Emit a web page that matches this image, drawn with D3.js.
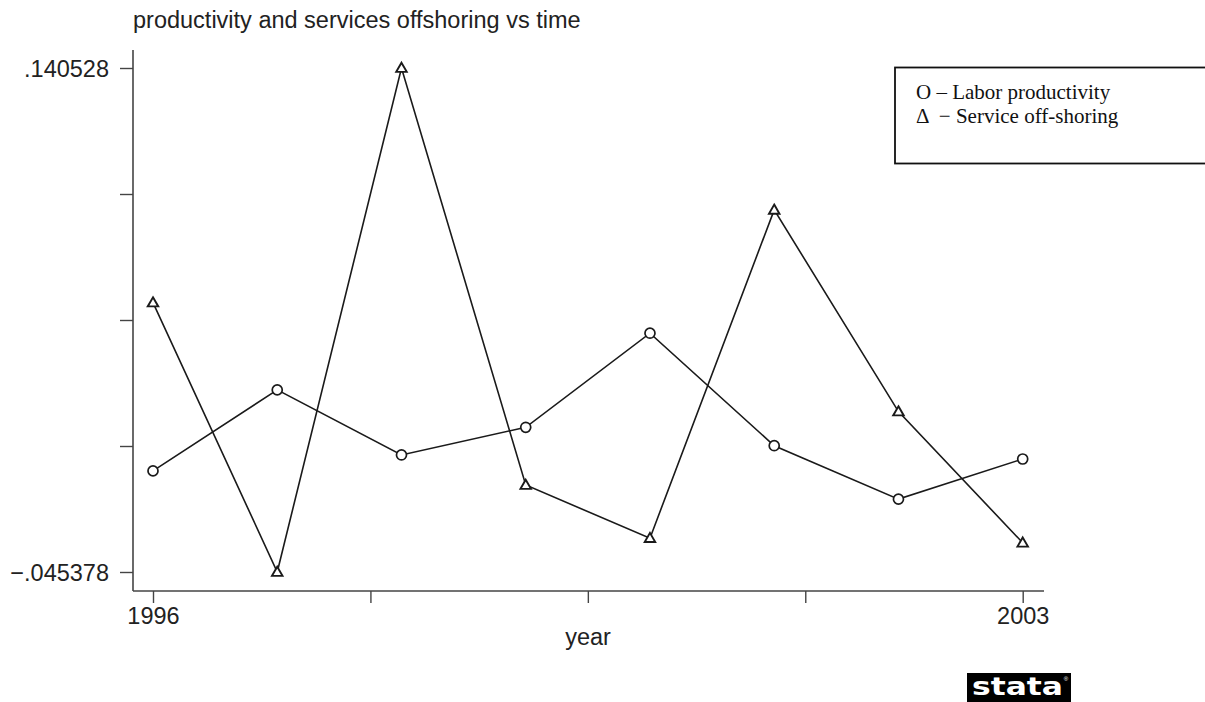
<!DOCTYPE html>
<html>
<head>
<meta charset="utf-8">
<script src="https://cdn.jsdelivr.net/npm/d3@7"></script>
<style>
  html, body { margin: 0; padding: 0; background: #fff; }
  svg { display: block; }
</style>
</head>
<body>
<svg id="chart" width="1205" height="702"></svg>
<script>
// Yearly values for the two series
const years = [1996, 1997, 1998, 1999, 2000, 2001, 2002, 2003];
const laborProductivity = [-0.0081, 0.0218, -0.0022, 0.0080, 0.0427, 0.0012, -0.0185, -0.0037];
const serviceOffshoring = [0.0540, -0.045378, 0.140528, -0.0133, -0.0329, 0.0882, 0.0138, -0.0346];

// Axis extremes (labelled ticks) and tick layout
const yMin = -0.045378, yMax = 0.140528;
const yTickLabels = ["\u2212.045378", ".140528"];
const xTickLabels = ["1996", "2003"];
const legendLines = ["O \u2013 Labor productivity", "\u0394  \u2212 Service off-shoring"];
const titleText = "productivity and services offshoring vs time";
const xTitle = "year";

const svg = d3.select("#chart");
const sans = "'Liberation Sans', Arial, Helvetica, sans-serif";
const serif = "'Liberation Serif', 'Times New Roman', serif";
const ink = "#1a1a1a";
const fontSize = 23.5;

const x = d3.scaleLinear().domain([1996, 2003]).range([153, 1022.7]);
const y = d3.scaleLinear().domain([yMin, yMax]).range([572, 68]);

// Title
svg.append("text")
  .attr("x", 133).attr("y", 28)
  .attr("font-family", sans).attr("font-size", fontSize)
  .attr("fill", "#222")
  .text(titleText);

// Y axis: five evenly spaced ticks, extremes labelled
const yTicks = d3.range(5).map(i => yMin + i * (yMax - yMin) / 4);
const yAxis = d3.axisLeft(y)
  .tickValues(yTicks)
  .tickSize(13)
  .tickPadding(11)
  .tickFormat((d, i) => i === 0 ? yTickLabels[0] : (i === 4 ? yTickLabels[1] : ""));
const gy = svg.append("g").attr("transform", "translate(133,0)").call(yAxis);
gy.select(".domain").attr("d", "M0,50V591");

// X axis: ticks every quarter of the span, ends labelled
const xTicks = d3.range(5).map(i => 1996 + i * 7 / 4);
const xAxis = d3.axisBottom(x)
  .tickValues(xTicks)
  .tickSize(12)
  .tickPadding(4)
  .tickFormat((d, i) => i === 0 ? xTickLabels[0] : (i === 4 ? xTickLabels[1] : ""));
const gx = svg.append("g").attr("transform", "translate(0,591)").call(xAxis);
gx.select(".domain").attr("d", "M133,0H1044");

[gx, gy].forEach(g => {
  g.selectAll(".domain").attr("stroke", "#444").attr("stroke-width", 1.6);
  g.selectAll(".tick line").attr("stroke", "#444").attr("stroke-width", 1.4);
  g.selectAll(".tick text")
    .attr("font-family", sans).attr("font-size", fontSize).attr("fill", "#222");
});
gy.selectAll(".tick text").attr("dy", "0.36em");

// X axis title
svg.append("text")
  .attr("x", 588).attr("y", 645)
  .attr("text-anchor", "middle")
  .attr("font-family", sans).attr("font-size", fontSize).attr("fill", "#222")
  .text(xTitle);

// Connected lines
const line = d3.line().x(d => x(d[0])).y(d => y(d[1]));
const seriesA = years.map((yr, i) => [yr, laborProductivity[i]]);
const seriesB = years.map((yr, i) => [yr, serviceOffshoring[i]]);

[seriesA, seriesB].forEach(s => {
  svg.append("path")
    .datum(s)
    .attr("d", line)
    .attr("fill", "none")
    .attr("stroke", ink)
    .attr("stroke-width", 1.6);
});

// Hollow circle markers
svg.append("g").selectAll("circle")
  .data(seriesA).join("circle")
  .attr("cx", d => x(d[0])).attr("cy", d => y(d[1]))
  .attr("r", 5)
  .attr("fill", "#fff").attr("stroke", ink).attr("stroke-width", 1.7);

// Hollow triangle markers
const tri = d3.symbol().type(d3.symbolTriangle).size(48);
svg.append("g").selectAll("path")
  .data(seriesB).join("path")
  .attr("transform", d => `translate(${x(d[0])},${y(d[1]) + 0.8})`)
  .attr("d", tri)
  .attr("fill", "#fff").attr("stroke", ink).attr("stroke-width", 1.9);

// Legend box
svg.append("rect")
  .attr("x", 895).attr("y", 67.5)
  .attr("width", 320).attr("height", 96)
  .attr("fill", "#fff").attr("stroke", "#111").attr("stroke-width", 1.8);
svg.append("g").selectAll("text")
  .data(legendLines).join("text")
  .attr("x", 916).attr("y", (d, i) => 98.5 + i * 24.5)
  .attr("font-family", serif).attr("font-size", 21).attr("fill", "#111")
  .attr("xml:space", "preserve")
  .style("white-space", "pre")
  .text(d => d);

// Logo in the lower right corner
const logo = svg.append("g");
logo.append("rect")
  .attr("x", 967).attr("y", 673).attr("width", 104).attr("height", 29)
  .attr("fill", "#000");
logo.append("text")
  .attr("x", 972).attr("y", 695)
  .attr("font-family", "'DejaVu Sans', sans-serif").attr("font-weight", "bold")
  .attr("font-size", 25).attr("fill", "#fff")
  .attr("textLength", 91).attr("lengthAdjust", "spacingAndGlyphs")
  .text("stata");
logo.append("text")
  .attr("x", 1066).attr("y", 681)
  .attr("text-anchor", "middle")
  .attr("font-family", sans).attr("font-size", 6).attr("fill", "#fff")
  .text("\u00ae");
</script>
</body>
</html>
